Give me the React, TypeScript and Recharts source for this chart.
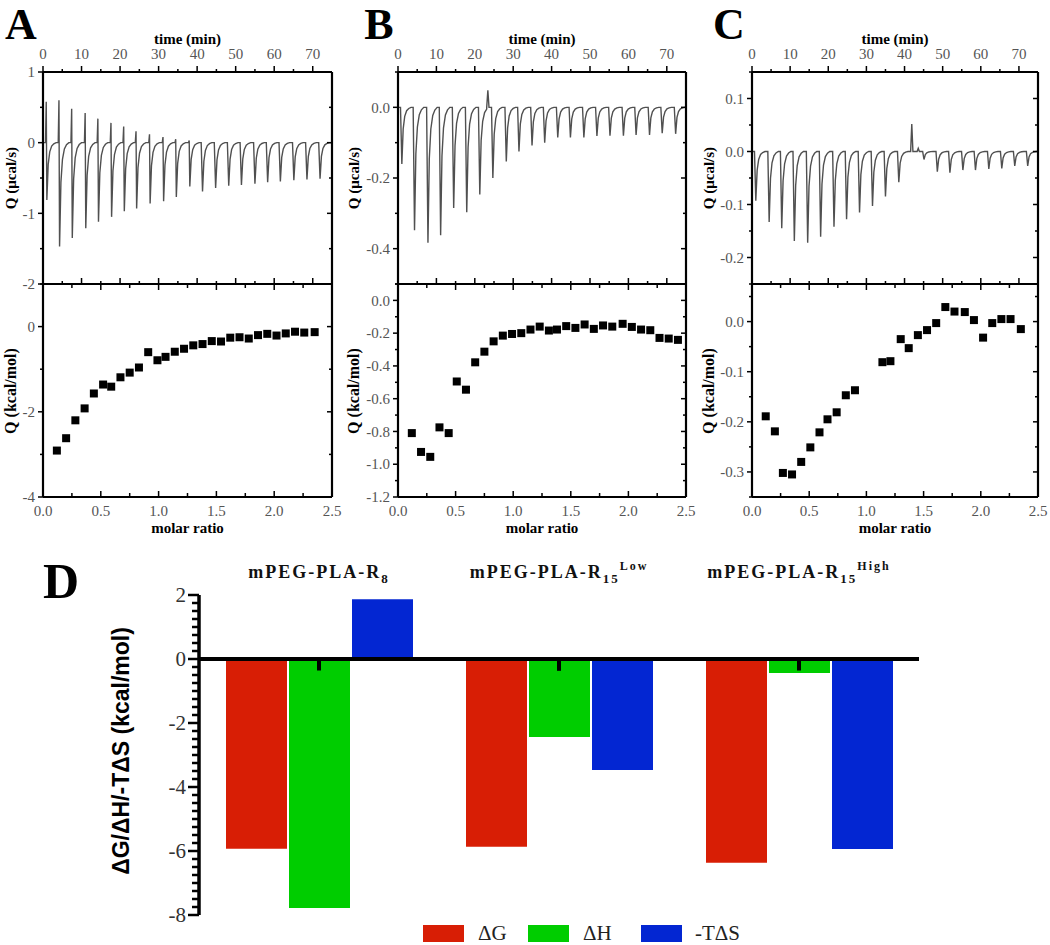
import React from "react";
import {
  LineChart,
  Line,
  ScatterChart,
  Scatter,
  ComposedChart,
  Bar,
  ErrorBar,
  XAxis,
  YAxis,
  ReferenceLine,
} from "recharts";

const SERIF = "'Liberation Serif', 'Times New Roman', serif";
const SANS = "'Liberation Sans', Arial, sans-serif";
const AXIS_LINE = { stroke: "#000", strokeWidth: 2.2 };

// --- shared ticks ---
const TIME_TICKS = [0, 5, 10, 15, 20, 25, 30, 35, 40, 45, 50, 55, 60, 65, 70];
const TIME_LABELS = [0, 10, 20, 30, 40, 50, 60, 70];
const RATIO_TICKS = [0, 0.25, 0.5, 0.75, 1, 1.25, 1.5, 1.75, 2, 2.25, 2.5];
const RATIO_LABELS = [0, 0.5, 1, 1.5, 2, 2.5];

// --- A: raw heat (injection time, peak, spike before the peak) ---
const A_INJ_T = [0.9, 4.2, 7.5, 11.0, 14.3, 17.7, 21.0, 24.2, 27.7, 31.2, 34.5, 38.0, 41.3, 44.7, 48.1, 51.4, 54.9, 58.2, 61.5, 65.0, 68.4, 71.8];
const A_PEAK = [-0.81, -1.47, -1.35, -1.21, -1.12, -1.05, -0.97, -0.93, -0.86, -0.83, -0.77, -0.62, -0.69, -0.64, -0.61, -0.6, -0.58, -0.56, -0.55, -0.53, -0.52, -0.51];
const A_SPIKE = [0.58, 0.6, 0.48, 0.42, 0.34, 0.28, 0.23, 0.16, 0.12, 0.08, 0.05, 0.03, 0, 0, 0, 0, 0, 0, 0, 0, 0, 0];
const A_BUMPS: number[][] = [];
const A_ISO_X = [0.12, 0.2, 0.28, 0.36, 0.44, 0.52, 0.59, 0.67, 0.75, 0.83, 0.91, 0.99, 1.06, 1.14, 1.22, 1.3, 1.38, 1.46, 1.54, 1.62, 1.7, 1.78, 1.86, 1.94, 2.02, 2.1, 2.18, 2.26, 2.35];
const A_ISO_Y = [-2.91, -2.62, -2.2, -1.92, -1.57, -1.36, -1.41, -1.19, -1.08, -0.96, -0.6, -0.79, -0.71, -0.59, -0.52, -0.44, -0.41, -0.34, -0.35, -0.26, -0.25, -0.28, -0.2, -0.17, -0.21, -0.16, -0.12, -0.14, -0.13];

// --- B ---
const B_INJ_T = [0.9, 4.2, 7.7, 11.0, 14.4, 17.8, 21.2, 24.6, 28.1, 31.4, 34.8, 38.1, 41.5, 44.8, 48.3, 51.7, 55.1, 58.6, 61.9, 65.4, 68.7, 72.2];
const B_PEAK = [-0.16, -0.348, -0.383, -0.362, -0.285, -0.297, -0.247, -0.2, -0.153, -0.125, -0.108, -0.1, -0.085, -0.085, -0.085, -0.081, -0.08, -0.08, -0.078, -0.078, -0.073, -0.075];
const B_SPIKE = B_INJ_T.map(() => 0);
const B_BUMPS = [[23.4, 0.048]];
const B_ISO_X = [0.12, 0.2, 0.28, 0.36, 0.44, 0.51, 0.59, 0.67, 0.75, 0.83, 0.91, 0.99, 1.07, 1.15, 1.23, 1.31, 1.38, 1.46, 1.54, 1.62, 1.7, 1.78, 1.86, 1.95, 2.03, 2.11, 2.19, 2.27, 2.35, 2.43];
const B_ISO_Y = [-0.81, -0.925, -0.955, -0.775, -0.81, -0.495, -0.545, -0.378, -0.313, -0.25, -0.215, -0.205, -0.2, -0.178, -0.16, -0.184, -0.178, -0.157, -0.168, -0.147, -0.174, -0.153, -0.16, -0.143, -0.162, -0.178, -0.182, -0.229, -0.233, -0.241];

// --- C ---
const C_INJ_T = [0.9, 4.4, 7.7, 11.0, 14.5, 17.9, 21.4, 24.7, 28.1, 31.5, 34.9, 38.4, 45.0, 48.5, 51.8, 55.2, 58.5, 62.0, 65.4, 68.8, 72.2];
const C_PEAK = [-0.093, -0.133, -0.145, -0.169, -0.172, -0.161, -0.142, -0.128, -0.115, -0.103, -0.085, -0.058, -0.015, -0.038, -0.04, -0.035, -0.035, -0.033, -0.032, -0.027, -0.027];
const C_SPIKE = C_INJ_T.map(() => 0);
const C_BUMPS = [[41.9, 0.052], [43.6, 0.006]];
const C_ISO_X = [0.12, 0.2, 0.27, 0.35, 0.43, 0.51, 0.59, 0.66, 0.74, 0.82, 0.9, 1.14, 1.21, 1.3, 1.37, 1.45, 1.53, 1.61, 1.69, 1.77, 1.86, 1.94, 2.02, 2.1, 2.18, 2.26, 2.35];
const C_ISO_Y = [-0.189, -0.219, -0.302, -0.305, -0.28, -0.251, -0.221, -0.195, -0.181, -0.147, -0.137, -0.081, -0.079, -0.035, -0.053, -0.027, -0.017, -0.003, 0.029, 0.02, 0.019, 0.003, -0.032, -0.003, 0.005, 0.005, -0.015];

// --- D: thermodynamic parameters ---
const D_GROUPS = ["mPEG-PLA-R8", "mPEG-PLA-R15Low", "mPEG-PLA-R15High"];
const D_BASE = ["mPEG-PLA-R", "mPEG-PLA-R", "mPEG-PLA-R"];
const D_SUB = ["8", "15", "15"];
const D_SUP = ["", "Low", "High"];
const D_DG = [-5.93, -5.87, -6.37];
const D_DH = [-7.78, -2.44, -0.44];
const D_TDS = [1.87, -3.47, -5.94];
const D_DH_ERR = [0.36, 0.37, 0.36];
const D_LABELS = [2, 0, -2, -4, -6, -8];

const RED = "#d81e05";
const GREEN = "#00cd00";
const BLUE = "#0326d2";

// shape of one injection peak returning to baseline
const RECOVERY_DT = [0.1, 0.45, 0.85, 1.35, 1.9, 2.5];
const RECOVERY_FRAC = [1, 0.38, 0.16, 0.06, 0.02, 0];

function buildTrace(times: number[], peaks: number[], spikes: number[], bumps: number[][]) {
  const pts: { t: number; q: number }[] = [{ t: 0, q: 0 }];
  times.forEach((t, i) => {
    pts.push({ t: t - 0.25, q: 0 });
    if (spikes[i] > 0) pts.push({ t: t - 0.06, q: spikes[i] });
    RECOVERY_DT.forEach((dt, k) => pts.push({ t: t + dt, q: peaks[i] * RECOVERY_FRAC[k] }));
  });
  bumps.forEach(([t, v]) => {
    pts.push({ t: t - 0.3, q: 0 }, { t, q: v }, { t: t + 0.3, q: 0 });
  });
  pts.push({ t: 75, q: 0 });
  return pts.sort((a, b) => a.t - b.t);
}

const isoData = (xs: number[], ys: number[]) => xs.map((x, i) => ({ x, y: ys[i] }));

const near = (list: number[], v: number) => list.some((m) => Math.abs(m - v) < 1e-6);

function AxisTick(props: any) {
  const { x, y, payload, side, labels, fmt, major = 5, minor = 3, fs = 15, color = "#555", gap = 3, offset = 0, sw = 1.5 } = props;
  const v = Number(payload.value);
  const isMajor = near(labels, v);
  const len = isMajor ? major : minor;
  const text = isMajor && fmt ? fmt(v) : null;
  let x2 = x, y2 = y, lx = x, ly = y, anchor = "middle", dy = "0";
  if (side === "left") {
    x2 = x - len;
    lx = x - major - gap;
    anchor = "end";
    dy = "0.35em";
  } else if (side === "right") {
    x2 = x - len;
  } else if (side === "top") {
    y2 = y - len;
    ly = y - offset;
  } else if (side === "topIn") {
    y2 = y + len;
  } else if (side === "bottomIn") {
    y2 = y - len;
    ly = y + offset;
  }
  return (
    <g>
      <line x1={x} y1={y} x2={x2} y2={y2} stroke="#000" strokeWidth={sw} />
      {text !== null && (
        <text x={lx} y={ly} dy={dy} textAnchor={anchor} style={{ fontFamily: SERIF, fontSize: fs, fill: color }}>
          {text}
        </text>
      )}
    </g>
  );
}

const PLOT_TOP = 72;
const MID = 284;
const PLOT_BOTTOM = 497;
const L = 50;
const R = 16;

interface PanelProps {
  px: number;
  w: number;
  ticks: number[];
  labels: number[];
  fmt: (v: number) => string;
  domain: [number, number];
}

function ThermoChart({ px, w, ticks, labels, fmt, domain, data }: PanelProps & { data: { t: number; q: number }[] }) {
  const T = 40;
  const B = 12;
  const h = MID - PLOT_TOP;
  return (
    <div style={{ position: "absolute", left: px - L, top: PLOT_TOP - T }}>
      <LineChart width={L + w + R} height={T + h + B} data={data} margin={{ top: 0, right: 0, bottom: 0, left: 0 }}>
        <XAxis xAxisId="t" dataKey="t" orientation="top" type="number" domain={[0, 75]} allowDataOverflow ticks={TIME_TICKS} interval={0}
          height={T} tickSize={0} tickMargin={0} tickLine={false} axisLine={AXIS_LINE}
          tick={(p: any) => <AxisTick {...p} side="top" labels={TIME_LABELS} fmt={String} major={6} minor={3} offset={13} />} />
        <XAxis xAxisId="b" dataKey="t" orientation="bottom" type="number" domain={[0, 75]} allowDataOverflow ticks={TIME_TICKS} interval={0}
          height={B} tickSize={0} tickMargin={0} tickLine={false} axisLine={AXIS_LINE}
          tick={(p: any) => <AxisTick {...p} side="bottomIn" labels={TIME_LABELS} major={6} minor={3} />} />
        <YAxis yAxisId="l" dataKey="q" orientation="left" type="number" domain={domain} allowDataOverflow ticks={ticks} interval={0}
          width={L} tickSize={0} tickMargin={0} tickLine={false} axisLine={AXIS_LINE}
          tick={(p: any) => <AxisTick {...p} side="left" labels={labels} fmt={fmt} major={5} minor={3} />} />
        <YAxis yAxisId="r" dataKey="q" orientation="right" type="number" domain={domain} allowDataOverflow ticks={ticks} interval={0}
          width={R} tickSize={0} tickMargin={0} tickLine={false} axisLine={AXIS_LINE}
          tick={(p: any) => <AxisTick {...p} side="right" labels={labels} major={5} minor={3} />} />
        <Line xAxisId="b" yAxisId="l" dataKey="q" type="linear" stroke="#505050" strokeWidth={1.4} dot={false} isAnimationActive={false} />
      </LineChart>
    </div>
  );
}

const Square = (p: any) => <rect x={p.cx - 4} y={p.cy - 4} width={8} height={8} fill="#000" />;

function IsoChart({ px, w, ticks, labels, fmt, domain, data }: PanelProps & { data: { x: number; y: number }[] }) {
  const T = 12;
  const B = 40;
  const h = PLOT_BOTTOM - MID;
  return (
    <div style={{ position: "absolute", left: px - L, top: MID - T }}>
      <ScatterChart width={L + w + R} height={T + h + B} data={data} margin={{ top: 0, right: 0, bottom: 0, left: 0 }}>
        <XAxis xAxisId="t" dataKey="x" orientation="top" type="number" domain={[0, 2.5]} allowDataOverflow ticks={RATIO_TICKS} interval={0}
          height={T} tickSize={0} tickMargin={0} tickLine={false} axisLine={AXIS_LINE}
          tick={(p: any) => <AxisTick {...p} side="topIn" labels={RATIO_LABELS} major={6} minor={4} />} />
        <XAxis xAxisId="b" dataKey="x" orientation="bottom" type="number" domain={[0, 2.5]} allowDataOverflow ticks={RATIO_TICKS} interval={0}
          height={B} tickSize={0} tickMargin={0} tickLine={false} axisLine={AXIS_LINE}
          tick={(p: any) => <AxisTick {...p} side="bottomIn" labels={RATIO_LABELS} fmt={(v: number) => v.toFixed(1)} major={6} minor={4} offset={19} />} />
        <YAxis yAxisId="l" dataKey="y" orientation="left" type="number" domain={domain} allowDataOverflow ticks={ticks} interval={0}
          width={L} tickSize={0} tickMargin={0} tickLine={false} axisLine={AXIS_LINE}
          tick={(p: any) => <AxisTick {...p} side="left" labels={labels} fmt={fmt} major={5} minor={3} />} />
        <YAxis yAxisId="r" dataKey="y" orientation="right" type="number" domain={domain} allowDataOverflow ticks={ticks} interval={0}
          width={R} tickSize={0} tickMargin={0} tickLine={false} axisLine={AXIS_LINE}
          tick={(p: any) => <AxisTick {...p} side="right" labels={labels} major={5} minor={3} />} />
        <Scatter xAxisId="b" yAxisId="l" data={data} shape={Square} isAnimationActive={false} />
      </ScatterChart>
    </div>
  );
}

function Txt({ x, y, size, children, bold = true, rotate = 0, family = SERIF, color = "#000" }: any) {
  return (
    <div
      style={{
        position: "absolute",
        left: x,
        top: y,
        transform: `translate(-50%, -50%) rotate(${rotate}deg)`,
        whiteSpace: "nowrap",
        fontFamily: family,
        fontSize: size,
        fontWeight: bold ? "bold" : "normal",
        lineHeight: 1,
        color,
      }}
    >
      {children}
    </div>
  );
}

// big panel letter, placed by its top edge so it stays inside the page
function Letter({ x, top, size, children }: any) {
  return (
    <div
      style={{
        position: "absolute",
        left: x,
        top,
        transform: "translateX(-50%)",
        fontFamily: SERIF,
        fontWeight: "bold",
        fontSize: size,
        lineHeight: 1,
      }}
    >
      {children}
    </div>
  );
}

function GroupTick({ x, y, payload }: any) {
  const i = D_GROUPS.indexOf(payload.value);
  return (
    <text x={x} y={y - 17} textAnchor="middle" style={{ fontFamily: SERIF, fontWeight: "bold", fontSize: 18, letterSpacing: 2, fill: "#111" }}>
      <tspan>{D_BASE[i]}</tspan>
      <tspan dy={5} fontSize={13}>{D_SUB[i]}</tspan>
      {D_SUP[i] && <tspan dy={-13} fontSize={12}>{D_SUP[i]}</tspan>}
    </text>
  );
}

const fmtInt = (v: number) => String(v);
const fmt1 = (v: number) => v.toFixed(1);

const PANELS = [
  {
    letter: "A", px: 43, w: 289, yLabX: 11, letterX: 21,
    top: { ticks: [1, 0.5, 0, -0.5, -1, -1.5, -2], labels: [1, 0, -1, -2], fmt: fmtInt, domain: [-2, 1] as [number, number] },
    bot: { ticks: [1, 0, -1, -2, -3, -4], labels: [0, -2, -4], fmt: fmtInt, domain: [-4, 1] as [number, number] },
    trace: buildTrace(A_INJ_T, A_PEAK, A_SPIKE, A_BUMPS),
    iso: isoData(A_ISO_X, A_ISO_Y),
  },
  {
    letter: "B", px: 398, w: 288, yLabX: 354, letterX: 379,
    top: { ticks: [0.1, 0, -0.1, -0.2, -0.3, -0.4, -0.5], labels: [0, -0.2, -0.4], fmt: fmt1, domain: [-0.5, 0.1] as [number, number] },
    bot: { ticks: [0.1, 0, -0.1, -0.2, -0.3, -0.4, -0.5, -0.6, -0.7, -0.8, -0.9, -1.0, -1.1, -1.2], labels: [0, -0.2, -0.4, -0.6, -0.8, -1.0, -1.2], fmt: fmt1, domain: [-1.2, 0.1] as [number, number] },
    trace: buildTrace(B_INJ_T, B_PEAK, B_SPIKE, B_BUMPS),
    iso: isoData(B_ISO_X, B_ISO_Y),
  },
  {
    letter: "C", px: 752, w: 286, yLabX: 709, letterX: 729,
    top: { ticks: [0.15, 0.1, 0.05, 0, -0.05, -0.1, -0.15, -0.2, -0.25], labels: [0.1, 0, -0.1, -0.2], fmt: fmt1, domain: [-0.25, 0.15] as [number, number] },
    bot: { ticks: [0.05, 0, -0.05, -0.1, -0.15, -0.2, -0.25, -0.3, -0.35], labels: [0, -0.1, -0.2, -0.3], fmt: fmt1, domain: [-0.35, 0.075] as [number, number] },
    trace: buildTrace(C_INJ_T, C_PEAK, C_SPIKE, C_BUMPS),
    iso: isoData(C_ISO_X, C_ISO_Y),
  },
];

// panel D geometry
const D_LEFT = 199;
const D_W = 720;
const D_TOP = 595;
const D_H = 320;
const D_L = 80;
const D_T = 40;
const D_B = 18;

function EnergyChart() {
  const data = D_GROUPS.map((name, i) => ({
    name,
    dG: D_DG[i],
    dH: D_DH[i],
    tdS: D_TDS[i],
    zero: 0,
    hErr: [D_DH_ERR[i], 0],
  }));
  const dTicks: number[] = [];
  for (let v = 2; v >= -8.001; v -= 0.25) dTicks.push(Math.round(v * 100) / 100);
  return (
    <div style={{ position: "absolute", left: D_LEFT - D_L, top: D_TOP - D_T }}>
      <ComposedChart width={D_L + D_W + 10} height={D_T + D_H + D_B} data={data} margin={{ top: 0, right: 10, bottom: D_B, left: 0 }} barGap={2}>
        <XAxis dataKey="name" orientation="top" height={D_T} axisLine={false} tickLine={false} tickSize={0} tickMargin={0} interval={0} tick={GroupTick} />
        <YAxis type="number" domain={[-8, 2]} allowDataOverflow ticks={dTicks} interval={0} width={D_L}
          tickSize={0} tickMargin={0} tickLine={false} axisLine={{ stroke: "#000", strokeWidth: 3.5 }}
          tick={(p: any) => <AxisTick {...p} side="left" labels={D_LABELS} fmt={fmtInt} major={11} minor={7} fs={21} color="#333" gap={2} sw={2.5} />} />
        <Bar dataKey="dG" fill={RED} barSize={61} isAnimationActive={false} />
        <Bar dataKey="dH" fill={GREEN} barSize={61} isAnimationActive={false} />
        <Bar dataKey="tdS" fill={BLUE} barSize={61} isAnimationActive={false} />
        <ReferenceLine y={0} stroke="#000" strokeWidth={4} />
        <Scatter dataKey="zero" shape={() => <g />} isAnimationActive={false}>
          <ErrorBar dataKey="hErr" direction="y" width={0} stroke="#000" strokeWidth={4} />
        </Scatter>
      </ComposedChart>
    </div>
  );
}

const LEGEND = [
  { label: "ΔG", color: RED, box: 423, text: 478 },
  { label: "ΔH", color: GREEN, box: 528, text: 583 },
  { label: "-TΔS", color: BLUE, box: 641, text: 695 },
];

export default function App() {
  return (
    <div style={{ position: "absolute", left: 0, top: 0, width: 1050, height: 945, background: "#fff", overflow: "hidden" }}>
      {PANELS.map((p) => (
        <React.Fragment key={p.letter}>
          <ThermoChart px={p.px} w={p.w} {...p.top} data={p.trace} />
          <IsoChart px={p.px} w={p.w} {...p.bot} data={p.iso} />
          <Letter x={p.letterX} top={3} size={44}>{p.letter}</Letter>
          <Txt x={p.px + p.w / 2} y={39} size={15}>time (min)</Txt>
          <Txt x={p.px + p.w / 2} y={528} size={15}>molar ratio</Txt>
          <Txt x={p.yLabX} y={178} size={15} rotate={-90}>Q (μcal/s)</Txt>
          <Txt x={p.yLabX} y={391} size={16} rotate={-90}>Q (kcal/mol)</Txt>
        </React.Fragment>
      ))}
      <EnergyChart />
      <Txt x={61} y={581} size={50}>D</Txt>
      <Txt x={121} y={751} size={23} rotate={-90} family={SANS}>ΔG/ΔH/-TΔS (kcal/mol)</Txt>
      {LEGEND.map((l) => (
        <React.Fragment key={l.label}>
          <div style={{ position: "absolute", left: l.box, top: 925, width: 41, height: 17, background: l.color }} />
          <div style={{ position: "absolute", left: l.text, top: 923, fontFamily: SERIF, fontSize: 21, lineHeight: 1, color: "#222" }}>{l.label}</div>
        </React.Fragment>
      ))}
    </div>
  );
}
